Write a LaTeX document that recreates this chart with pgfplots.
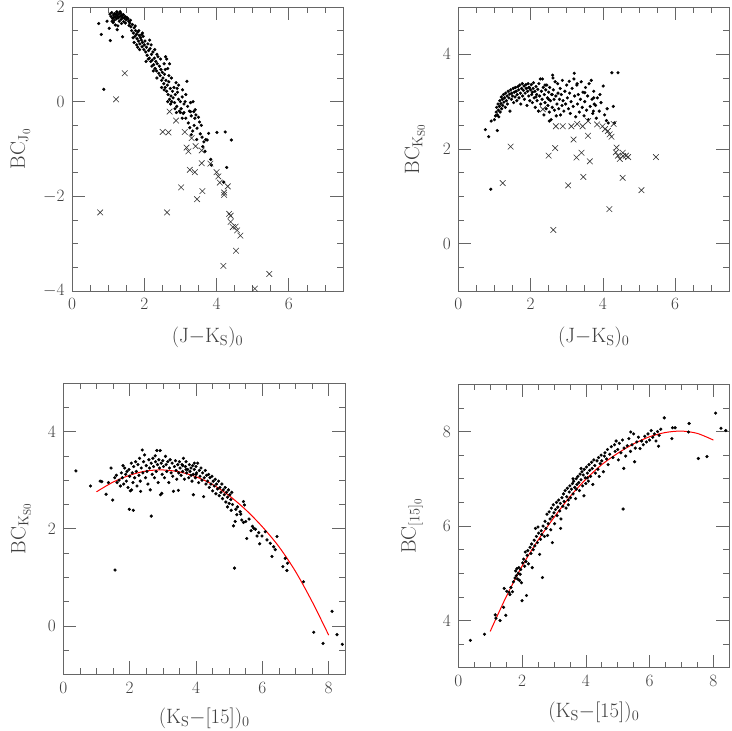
\documentclass[border=0pt]{standalone}
\usepackage{pgfplots}
\pgfplotsset{compat=1.18}
\pgfplotsset{
  panel/.style={
    scale only axis,
    axis line style={black!60, line width=0.6pt},
    every tick/.style={black!60, line width=0.6pt},
    major tick length=13pt, minor tick length=6pt,
    tick align=inside,
    minor tick num=3,
    xtick distance=2, ytick distance=2,
    ticklabel style={font=\fontsize{18}{20}\selectfont, text=black!75},
    xticklabel style={yshift=-4pt},
    yticklabel style={xshift=-4pt},
    label style={font=\fontsize{21}{24}\selectfont, text=black!75},
    clip=true,
  },
  dots/.style={only marks, mark=*, mark size=1.4pt, black},
  crosses/.style={only marks, mark=x, mark size=4pt, black!80, mark options={line width=0.6pt}},
  fit/.style={red, line width=1pt, smooth, no marks},
}
\begin{document}
\begin{tikzpicture}[x=1pt,y=1pt]
\useasboundingbox (0,0) rectangle (732,731);
% ---------------- Panel 1 ----------------
\begin{axis}[panel, at={(72pt,724pt)}, anchor=north west,
  width=271pt, height=284pt,
  xmin=0, xmax=7.5, ymin=-4, ymax=2,
  xlabel={$(\mathrm{J}{-}\mathrm{K_S})_0$},
  ylabel={$\mathrm{BC}_{\mathrm{J}_0}$},
  xlabel style={at={(axis description cs:0.5,-0.162)}, anchor=center},
  ylabel style={at={(axis description cs:-0.19,0.5)}, anchor=center},
]
\addplot[dots] coordinates {
(1.05,1.85)(1.08,1.80)(1.10,1.88)(1.12,1.76)(1.15,1.83)(1.17,1.72)(1.18,1.86)(1.20,1.79)(1.22,1.84)(1.23,1.75)
(1.25,1.88)(1.26,1.81)(1.28,1.77)(1.30,1.85)(1.31,1.70)(1.33,1.80)(1.35,1.87)(1.36,1.74)(1.38,1.82)(1.40,1.78)
(1.42,1.84)(1.43,1.69)(1.45,1.76)(1.47,1.80)(1.48,1.66)(1.50,1.73)(1.52,1.78)(1.14,1.67)(1.20,1.62)(1.27,1.60)
(1.11,1.70)(1.24,1.90)(1.33,1.90)(1.16,1.78)(1.37,1.65)(1.55,1.75)(1.57,1.70)(1.60,1.66)(1.58,1.61)(1.62,1.72)
(0.74,1.65)(0.81,1.42)(0.88,0.26)(0.97,1.70)(1.03,1.55)(1.06,1.29)(1.40,1.37)(1.25,1.52)
(1.63,1.58)(1.65,1.50)(1.67,1.63)(1.70,1.45)(1.72,1.56)(1.74,1.38)(1.76,1.50)(1.78,1.42)(1.80,1.33)(1.82,1.47)
(1.84,1.28)(1.86,1.40)(1.88,1.22)(1.90,1.35)(1.92,1.30)(1.94,1.16)(1.95,1.25)(1.97,1.38)(1.99,1.10)(2.00,1.20)
(1.69,1.35)(1.79,1.20)(1.87,1.10)(1.75,1.60)(1.85,1.50)(1.93,1.42)
(2.02,1.28)(2.04,1.05)(2.06,1.15)(2.08,0.98)(2.10,1.22)(2.12,1.08)(2.14,0.92)(2.16,1.12)(2.18,0.85)(2.20,1.00)
(2.22,0.88)(2.24,1.05)(2.26,0.78)(2.28,0.92)(2.30,0.70)(2.32,0.85)(2.34,0.65)(2.36,0.80)(2.38,0.95)(2.40,0.60)
(2.11,0.90)(2.21,0.75)(2.29,1.10)(2.35,1.00)(2.19,1.20)
(2.42,0.75)(2.44,0.55)(2.46,0.68)(2.48,0.45)(2.50,0.62)(2.52,0.50)(2.54,0.38)(2.56,0.58)(2.58,0.30)(2.60,0.45)
(2.62,0.90)(2.62,0.22)(2.64,0.35)(2.66,0.15)(2.68,0.42)(2.70,0.05)(2.72,0.28)(2.74,0.12)(2.76,0.00)(2.78,0.22)
(2.80,0.08)(2.55,0.80)(2.65,0.70)(2.68,0.55)(2.73,-0.05)(2.59,0.95)
(2.82,0.30)(2.84,-0.02)(2.86,0.15)(2.88,0.40)(2.90,-0.10)(2.92,0.20)(2.95,0.05)(2.97,-0.20)(3.00,0.00)(3.02,-0.15)
(3.05,0.10)(3.08,-0.25)(3.10,-0.05)(3.13,0.00)(3.15,-0.35)(3.18,0.43)(3.20,-0.10)(3.22,-0.45)(3.25,-0.20)(3.28,-0.02)
(3.30,-0.30)(2.89,-0.23)(3.00,-0.23)(3.10,-0.23)(3.28,-0.21)(3.37,-0.21)(3.43,-0.28)
(3.41,-0.17)(3.50,-0.33)(3.53,-0.43)(3.46,-0.56)(3.38,-0.50)(3.34,-0.62)(3.60,-0.75)(3.55,-0.68)(3.65,-0.85)(3.70,-0.80)
(3.74,-0.81)(3.78,-0.67)(4.01,-0.65)(4.24,-0.64)(4.41,-0.81)(4.28,-1.39)(3.62,-0.95)(3.45,-0.80)(3.30,-0.70)(3.68,-1.05)
(3.40,-0.35)(3.35,0.00)(3.84,-1.22)(3.86,-1.34)(4.20,-1.70)(3.58,-0.50)(3.26,-0.55)
(1.95,1.45)(2.05,0.85)(2.15,1.30)(2.25,0.65)(2.45,0.90)(2.55,0.25)(2.35,0.50)(2.65,0.00)(2.75,0.50)(2.85,-0.15)
(2.95,0.35)(3.05,-0.35)(1.72,1.25)(1.82,1.15)(2.48,0.30)(2.58,0.68)(2.70,0.80)(2.91,0.28)(3.15,0.15)(3.06,0.25)
};
\addplot[crosses] coordinates {
(0.78,-2.34)(1.22,0.05)(1.46,0.60)(2.51,-0.64)(2.67,-0.65)(2.63,-2.34)(2.70,-0.21)(2.88,-0.40)(3.12,-0.64)(3.31,-0.77)
(3.17,-0.97)(3.22,-1.05)(3.42,-0.94)(3.59,-1.03)(3.59,-1.30)(3.83,-1.31)(3.26,-1.44)(3.40,-1.49)(4.00,-1.49)(4.05,-1.58)
(4.09,-1.71)(4.31,-1.79)(4.21,-1.92)(4.21,-1.97)(3.02,-1.81)(3.61,-1.89)(3.46,-2.06)(4.35,-2.37)(4.39,-2.41)(4.39,-2.54)
(4.45,-2.65)(4.53,-2.64)(4.57,-2.72)(4.66,-2.83)(4.54,-3.15)(4.19,-3.47)(5.46,-3.64)(5.06,-3.95)
};
\end{axis}
% ---------------- Panel 2 ----------------
\begin{axis}[panel, at={(458.3pt,724pt)}, anchor=north west,
  width=271pt, height=284pt,
  xmin=0, xmax=7.5, ymin=-1, ymax=5,
  xlabel={$(\mathrm{J}{-}\mathrm{K_S})_0$},
  ylabel={$\mathrm{BC}_{\mathrm{K}_{\mathrm{S0}}}$},
  xlabel style={at={(axis description cs:0.5,-0.162)}, anchor=center},
  ylabel style={at={(axis description cs:-0.16,0.5)}, anchor=center},
]
\addplot[dots] coordinates {
(0.75,2.41)(0.84,2.26)(0.91,2.59)(1.08,2.39)(0.90,1.15)
(1.00,2.62)(1.03,2.70)(1.05,2.78)(1.06,2.88)(1.08,2.72)(1.10,2.95)(1.11,2.82)(1.12,2.68)(1.14,2.90)(1.15,3.02)
(1.16,2.78)(1.18,2.96)(1.19,3.10)(1.20,2.85)(1.22,3.05)(1.23,2.92)(1.25,3.15)(1.26,2.99)(1.28,3.08)(1.30,2.88)
(1.31,3.18)(1.33,3.02)(1.35,3.12)(1.36,2.95)(1.38,3.22)(1.40,3.08)(1.42,3.16)(1.43,2.80)(1.45,3.25)(1.47,3.05)
(1.48,3.18)(1.50,3.12)(1.52,3.28)(1.53,2.98)(1.55,3.20)(1.57,3.10)(1.58,3.30)(1.60,3.22)(1.62,3.02)(1.63,3.15)
(1.65,3.32)(1.67,3.25)(1.68,3.08)(1.70,3.35)(1.72,3.18)(1.73,2.95)(1.75,3.28)(1.77,3.38)(1.78,3.12)(1.80,3.24)
(1.82,3.33)(1.83,3.05)(1.85,3.18)(1.87,3.36)(1.88,3.28)(1.90,2.92)(1.92,3.22)(1.93,3.38)(1.95,3.12)(1.97,3.30)
(1.98,3.02)(2.00,3.25)(2.02,3.36)(2.03,3.15)(2.05,2.98)(2.07,3.28)(2.08,3.40)(2.10,3.08)(2.12,3.22)(2.13,2.88)
(2.15,3.32)(2.17,3.15)(2.18,3.02)(2.20,3.26)(2.22,2.80)(2.23,3.38)(2.25,3.12)(2.27,3.48)(2.28,2.95)(2.30,3.22)
(2.32,3.05)(2.33,3.48)(2.35,3.30)(2.37,2.72)(2.38,3.15)(2.40,2.98)(2.42,3.25)(2.43,2.85)(2.45,3.35)(2.47,3.08)
(2.48,2.92)(2.50,3.20)(2.52,2.78)(2.53,3.30)(2.55,3.02)(2.57,2.62)(2.58,3.15)(2.60,2.88)(2.61,3.56)(2.62,3.50)
(2.63,3.25)(2.65,3.05)(2.66,2.82)(2.68,3.42)(2.70,3.12)(2.71,2.70)(2.73,2.95)(2.75,3.38)(2.76,3.18)(2.78,2.85)
(2.80,3.05)(2.82,3.28)(2.83,2.72)(2.85,3.15)(2.87,2.92)(2.88,3.45)(2.90,3.02)(2.92,2.80)(2.95,3.22)(2.97,2.95)
(3.00,3.35)(3.02,3.08)(3.05,2.85)(3.07,3.43)(3.08,3.18)(3.10,2.75)(3.12,3.00)(3.15,3.28)(3.18,2.90)(3.21,3.60)
(3.22,3.12)(3.25,2.68)(3.28,3.35)(3.29,3.38)(3.30,2.95)(3.32,3.15)(3.35,2.78)(3.38,3.05)(3.40,3.42)(3.43,2.88)
(3.45,3.20)(3.48,2.70)(3.50,3.00)(3.52,3.30)(3.55,2.82)(3.58,3.12)(3.60,2.62)(3.62,3.38)(3.65,2.90)(3.70,3.05)
(3.72,2.75)(3.75,3.22)(3.80,2.92)(3.82,2.65)(3.85,3.08)(3.90,2.80)(3.95,2.98)(4.01,3.33)(4.05,2.72)(4.10,2.60)
(4.25,3.61)(4.42,3.61)(4.29,2.90)(4.15,2.55)(4.32,2.55)(4.12,2.85)(3.92,3.15)(3.68,3.45)(3.20,3.48)(2.52,2.59)
(3.75,3.08)(3.76,2.95)(3.74,2.80)(3.50,3.19)(1.95,3.30)(2.05,3.20)(2.15,3.10)(2.40,3.35)(2.50,3.05)(2.60,3.15)
};
\addplot[crosses] coordinates {
(1.23,1.28)(1.45,2.05)(2.34,2.84)(2.50,1.86)(2.68,2.02)(2.63,0.29)(2.70,2.48)(2.89,2.48)(3.13,2.48)(3.29,2.53)
(3.44,2.48)(3.59,2.59)(3.84,2.52)(3.99,2.48)(4.06,2.42)(4.14,2.38)(4.19,2.31)(4.24,2.26)(4.30,2.53)(3.19,2.20)
(3.59,2.28)(3.41,1.92)(3.27,1.82)(3.64,1.74)(4.38,2.03)(4.36,1.93)(4.42,1.86)(4.47,1.79)(4.56,1.85)(4.64,1.86)
(4.70,1.83)(4.55,1.92)(5.47,1.83)(3.46,1.41)(4.55,1.39)(3.04,1.23)(5.07,1.13)(4.18,0.73)
};
\end{axis}
% ---------------- Panel 3 ----------------
\begin{axis}[panel, at={(63.3pt,348pt)}, anchor=north west,
  width=282pt, height=291.5pt,
  xmin=0, xmax=8.5, ymin=-1, ymax=5,
  xlabel={$(\mathrm{K_S}{-}[15])_0$},
  ylabel={$\mathrm{BC}_{\mathrm{K}_{\mathrm{S0}}}$},
  xlabel style={at={(axis description cs:0.5,-0.151)}, anchor=center},
  ylabel style={at={(axis description cs:-0.15,0.5)}, anchor=center},
]
\addplot[dots] coordinates {
(0.38,3.19)(0.82,2.88)(1.11,2.98)(1.16,2.97)(1.29,2.71)(1.36,2.95)(1.44,3.25)(1.49,2.59)(1.56,1.15)(1.99,2.40)
(2.11,2.38)(2.65,2.26)
(1.55,3.05)(1.60,3.10)(1.62,2.95)(1.68,3.00)(1.72,2.88)(1.75,3.15)(1.78,3.05)(1.80,3.30)(1.82,2.92)(1.85,3.25)
(1.88,3.12)(1.90,2.98)(1.92,3.18)(1.95,2.85)(1.98,3.22)(2.00,3.08)(2.02,2.78)(2.05,3.35)(2.08,3.15)(2.10,2.95)
(2.12,3.28)(2.15,3.05)(2.18,3.38)(2.20,3.18)(2.22,2.88)(2.25,3.32)(2.28,3.10)(2.30,3.45)(2.32,2.98)(2.35,3.25)
(2.38,3.62)(2.40,3.15)(2.42,3.38)(2.45,3.52)(2.48,3.05)(2.50,3.30)(2.52,3.18)(2.55,2.92)(2.58,3.42)(2.60,3.25)
(2.62,2.80)(2.65,3.35)(2.33,2.77)(2.06,2.80)
(2.68,3.12)(2.70,3.45)(2.72,3.28)(2.75,3.05)(2.77,3.50)(2.78,3.38)(2.80,3.18)(2.82,3.61)(2.84,3.32)(2.86,2.95)
(2.88,3.42)(2.90,3.25)(2.92,3.61)(2.93,2.70)(2.95,3.35)(2.97,2.73)(2.98,3.12)(3.00,3.40)(3.02,3.28)(3.05,3.05)
(3.08,3.49)(3.10,3.32)(3.12,3.18)(3.15,3.38)(3.18,2.95)(3.20,3.25)(3.22,3.42)(3.25,3.15)(3.28,3.35)(3.30,3.08)
(3.32,2.77)(3.35,3.28)(3.38,3.40)(3.40,3.20)(3.42,3.02)(3.45,3.32)(3.47,2.79)(3.48,3.15)(3.50,3.38)
(3.52,3.25)(3.55,3.10)(3.58,3.32)(3.60,3.18)(3.62,3.45)(3.65,3.02)(3.68,3.28)(3.70,3.38)(3.72,3.15)(3.75,3.22)
(3.78,3.05)(3.80,3.32)(3.82,3.18)(3.85,3.25)(3.88,2.98)(3.90,3.30)(3.92,2.70)(3.92,3.12)(3.95,3.22)(3.98,3.05)
(4.00,3.28)(4.02,3.15)(4.05,3.35)(4.08,2.95)(4.10,3.20)(4.12,3.08)(4.15,3.25)(4.18,3.00)(4.20,3.15)(4.23,2.66)
(4.25,3.05)(4.28,3.20)(4.30,2.92)(4.32,3.10)(4.35,2.98)(4.38,3.12)(4.40,2.85)(4.42,3.05)(4.45,2.92)(4.48,3.08)
(4.50,2.78)(4.52,2.98)(4.55,2.88)(4.58,3.02)(4.60,2.72)(4.62,2.92)(4.65,2.82)(4.68,2.98)(4.70,2.68)(4.72,2.85)
(4.75,2.75)(4.78,2.92)(4.80,2.62)(4.82,2.80)(4.85,2.70)(4.88,2.85)(4.90,2.55)(4.92,2.75)(4.95,2.65)(4.98,2.80)
(5.00,2.52)(5.02,2.70)(5.05,2.60)(5.08,2.75)(5.10,2.50)(3.70,3.22)(3.85,3.10)(4.00,3.12)(3.60,3.30)(3.95,3.35)
(5.13,2.06)(5.16,1.19)(5.18,2.15)(5.23,2.29)(5.33,2.35)(5.38,2.18)(5.43,2.56)(5.46,2.49)(5.43,2.13)(5.53,1.80)
(5.66,1.96)(5.74,2.01)(5.79,1.99)(5.84,1.85)(5.89,1.92)(5.92,1.69)(5.99,1.85)(6.09,1.94)(6.14,1.77)(6.24,1.70)
(6.29,1.43)(6.34,1.63)(6.39,1.57)(6.44,1.84)(6.62,1.22)(6.69,1.39)(6.74,1.14)(6.76,1.29)(7.24,0.91)(7.55,-0.13)
(7.83,-0.36)(8.10,0.30)(8.25,-0.18)(8.41,-0.38)(5.60,2.20)(5.70,2.05)(5.25,2.45)(5.35,2.30)(5.50,2.15)(5.20,2.40)
(4.95,2.45)(5.06,2.38)
};
\addplot[fit] coordinates {
(1.0,2.76)(1.5,2.96)(2.0,3.10)(2.5,3.19)(3.0,3.21)(3.5,3.17)(4.0,3.07)(4.5,2.91)(5.0,2.68)(5.5,2.39)
(6.0,2.04)(6.5,1.63)(7.0,1.12)(7.5,0.50)(8.0,-0.19)
};
\end{axis}
% ---------------- Panel 4 ----------------
\begin{axis}[panel, at={(458.3pt,346.7pt)}, anchor=north west,
  width=271pt, height=283.5pt,
  xmin=0, xmax=8.5, ymin=3, ymax=9,
  xlabel={$(\mathrm{K_S}{-}[15])_0$},
  ylabel={$\mathrm{BC}_{[15]_0}$},
  xlabel style={at={(axis description cs:0.5,-0.158)}, anchor=center},
  ylabel style={at={(axis description cs:-0.17,0.5)}, anchor=center},
]
\addplot[dots] coordinates {
(0.38,3.58)(0.82,3.71)(1.16,4.12)(1.18,4.05)(1.31,4.00)(1.42,4.28)(1.44,4.68)(1.49,4.11)(1.52,4.62)(1.59,4.60)
(1.62,4.55)(1.65,4.70)(1.70,4.61)(1.73,4.82)(1.78,4.90)(1.80,5.05)(1.82,4.95)(1.84,5.10)(1.86,4.88)(1.88,5.00)
(1.90,5.12)(1.92,4.85)(1.94,4.98)(1.96,5.08)(1.98,4.80)(2.00,4.42)(2.02,5.22)(2.05,5.30)(2.08,5.15)(2.10,5.45)
(2.12,5.25)(2.14,4.53)(2.16,5.38)(2.18,5.48)(2.20,5.20)(2.25,5.55)(2.28,5.42)(2.30,5.62)(2.32,5.12)(2.35,5.50)
(2.38,5.70)(2.40,5.58)(2.42,5.95)(2.45,5.78)(2.48,5.65)(2.50,5.98)(2.52,5.85)(2.55,5.40)(2.58,5.72)(2.60,5.90)
(2.62,5.82)(2.64,4.91)(2.66,6.00)(2.70,5.78)(2.72,6.10)(2.75,5.95)(2.78,6.25)(2.80,5.80)(2.82,6.05)(2.85,6.30)
(2.88,6.15)(2.90,5.92)(2.92,6.38)(2.95,6.20)(2.98,6.45)(3.00,6.28)(3.02,6.05)(3.05,6.35)(3.08,6.50)(3.10,6.22)
(3.12,6.40)(3.15,6.55)(3.18,6.32)(3.20,6.48)(3.22,6.15)(3.25,6.60)(3.28,6.42)(3.30,6.68)(3.32,6.52)(3.35,6.75)
(3.38,6.38)(3.40,6.62)(3.42,6.80)(3.45,6.55)(3.48,6.72)(3.50,6.85)(3.52,6.60)(3.55,6.78)(3.58,6.90)(3.60,6.68)
(3.62,6.95)(3.65,6.82)(3.68,6.58)(3.70,7.00)(3.72,6.88)(3.75,7.05)(3.78,6.92)(3.80,6.75)(3.82,7.10)(3.85,6.98)
(3.88,7.15)(3.90,6.85)(3.92,7.08)(3.95,7.20)(3.98,7.02)(4.00,6.90)(4.02,7.25)(4.05,7.12)(4.08,6.95)(4.10,7.30)
(4.12,7.18)(4.15,7.05)(4.18,7.35)(4.20,7.22)(4.22,6.88)(4.25,7.40)(4.28,7.28)(4.30,7.12)(4.35,7.38)(4.38,7.20)
(4.40,7.45)(4.42,7.05)(4.45,7.32)(4.48,7.50)(4.50,7.38)(4.55,7.15)(4.58,7.48)(4.60,7.55)(4.65,7.42)(4.68,7.62)
(4.70,7.30)(4.75,7.52)(4.80,7.68)(4.85,7.45)(4.90,7.72)(4.92,7.58)(4.95,7.80)(5.00,7.62)(5.02,7.40)(5.05,7.75)
(5.10,7.55)(5.15,7.82)(5.17,6.36)(5.19,7.22)(5.20,7.65)(5.25,7.48)(5.30,7.70)(5.35,7.85)(5.40,7.58)(5.41,7.99)
(5.45,7.72)(5.50,7.95)(5.53,7.36)(5.55,7.65)(5.60,7.78)(5.65,7.88)(5.70,7.64)(5.75,7.80)(5.80,7.72)(5.85,7.90)
(5.90,7.78)(5.95,7.95)(6.00,7.82)(6.05,8.02)(6.10,7.88)(6.15,7.95)(6.20,7.80)(6.25,8.00)(6.28,7.69)(6.30,7.92)
(6.35,8.05)(6.46,8.29)(6.70,7.85)(6.72,8.08)(6.80,8.08)(7.22,7.99)(7.24,8.17)(7.53,7.43)(7.80,7.47)(8.07,8.39)
(8.24,8.07)(8.39,8.02)(3.21,5.95)(2.95,5.65)(3.94,6.64)(3.70,6.78)(3.45,6.45)(4.05,7.02)(3.85,7.22)(3.60,7.00)
};
\addplot[fit] coordinates {
(1.0,3.77)(1.5,4.50)(2.0,5.15)(2.5,5.70)(3.0,6.18)(3.5,6.62)(4.0,6.99)(4.5,7.30)(5.0,7.54)(5.5,7.74)
(6.0,7.89)(6.5,7.98)(7.0,8.01)(7.5,7.96)(8.0,7.82)
};
\end{axis}
\end{tikzpicture}
\end{document}
